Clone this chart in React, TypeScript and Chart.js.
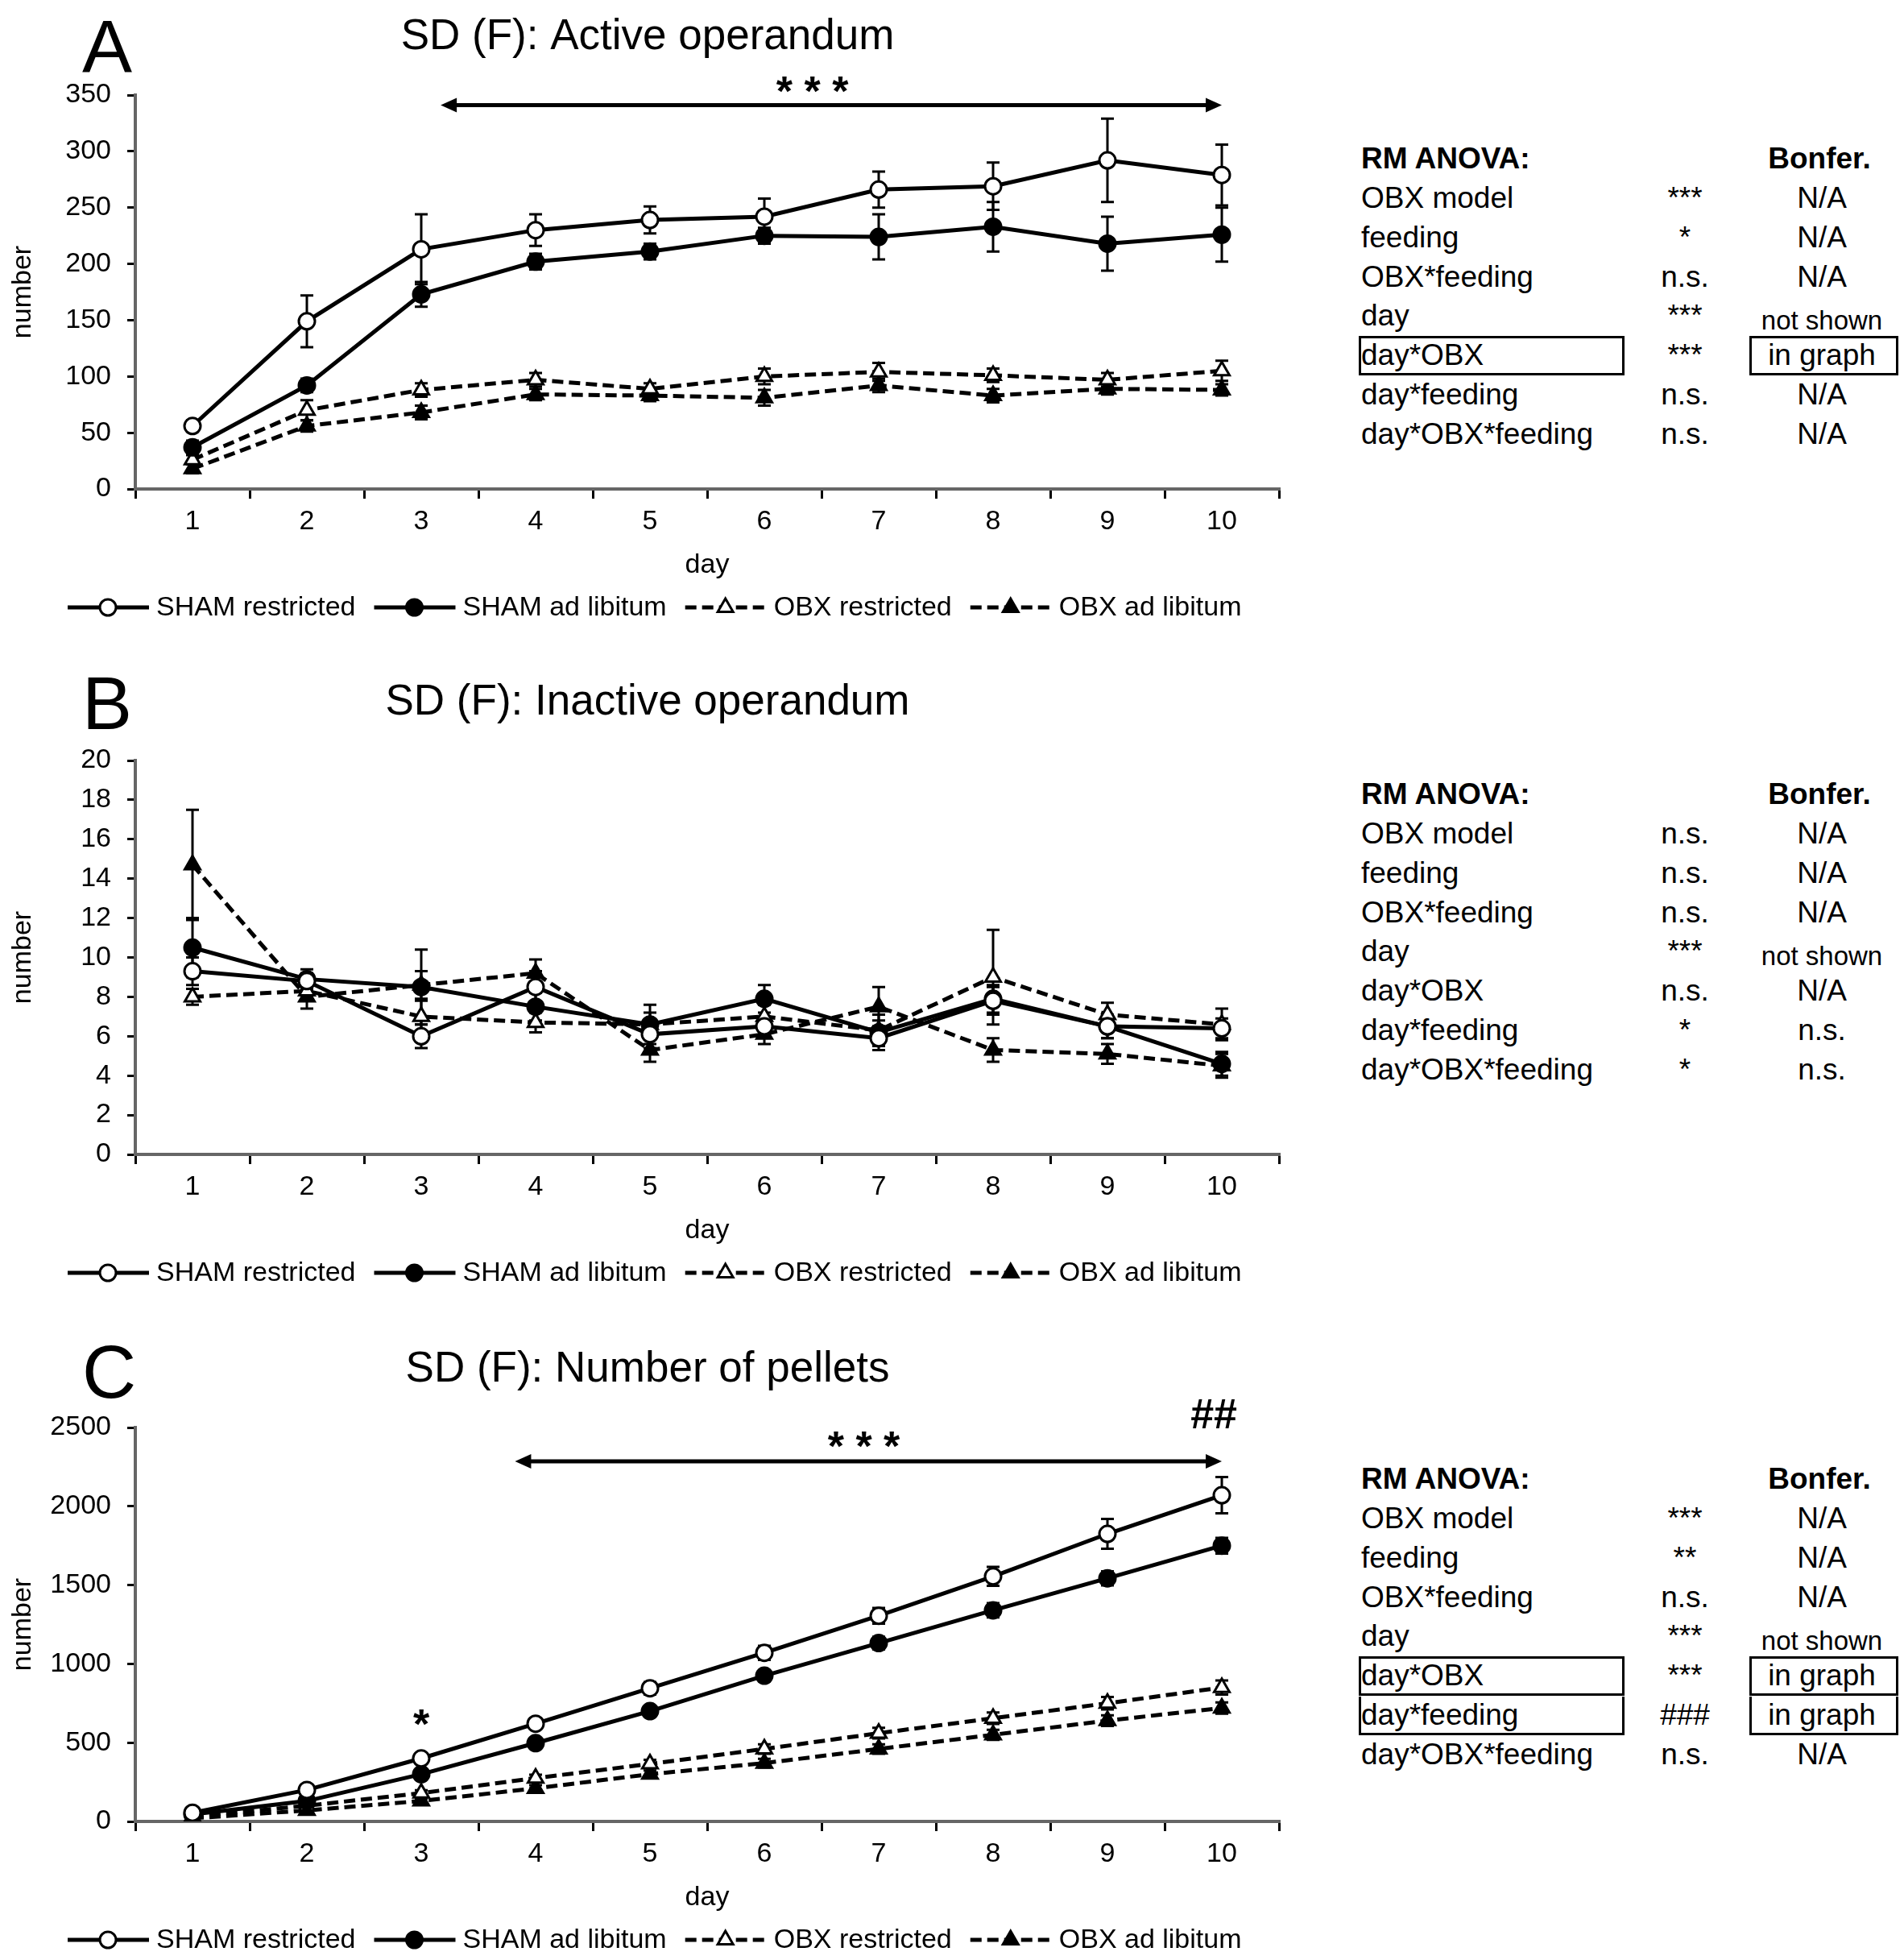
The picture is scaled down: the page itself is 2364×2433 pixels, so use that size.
import React, { useEffect, useRef } from 'react';
import { Chart, registerables } from 'chart.js';

Chart.register(...registerables);

const FONT = '"Liberation Sans", Arial, Helvetica, sans-serif';
Chart.defaults.font.family = FONT;
Chart.defaults.color = '#000';

// ---------- data ----------
const days = ['1', '2', '3', '4', '5', '6', '7', '8', '9', '10'];
const seriesLabels = ['SHAM restricted', 'SHAM ad libitum', 'OBX restricted', 'OBX ad libitum'];

// A: Active operandum
const activeShamRestricted = [56, 149, 213, 230, 239, 242, 266, 269, 292, 279];
const activeShamRestrictedSem = [5, 23, 31, 14, 12, 16, 16, 21, 37, 27];
const activeShamAdLib = [37, 92, 173, 202, 211, 225, 224, 233, 218, 226];
const activeShamAdLibSem = [6, 6, 11, 7, 7, 7, 20, 22, 24, 24];
const activeObxRestricted = [26, 70, 88, 97, 89, 100, 104, 101, 97, 105];
const activeObxRestrictedSem = [4, 9, 6, 6, 5, 7, 8, 6, 6, 9];
const activeObxAdLib = [18, 56, 68, 84, 83, 81, 92, 83, 89, 88];
const activeObxAdLibSem = [4, 5, 6, 5, 5, 7, 6, 6, 5, 5];

// B: Inactive operandum
const inactiveShamRestricted = [9.3, 8.8, 6.0, 8.5, 6.1, 6.5, 5.9, 7.8, 6.5, 6.4];
const inactiveShamRestrictedSem = [0.7, 0.4, 0.6, 0.8, 0.7, 0.5, 0.6, 0.7, 0.6, 0.5];
const inactiveShamAdLib = [10.5, 8.9, 8.5, 7.5, 6.6, 7.9, 6.2, 7.9, 6.5, 4.6];
const inactiveShamAdLibSem = [1.5, 0.5, 1.9, 0.7, 0.6, 0.7, 0.6, 0.7, 0.6, 0.6];
const inactiveObxRestricted = [8.0, 8.3, 7.0, 6.7, 6.6, 7.0, 6.3, 9.0, 7.1, 6.6];
const inactiveObxRestrictedSem = [0.4, 0.4, 0.8, 0.5, 1.0, 0.6, 0.8, 2.4, 0.6, 0.8];
const inactiveObxAdLib = [14.7, 8.0, 8.6, 9.2, 5.3, 6.1, 7.5, 5.3, 5.1, 4.5];
const inactiveObxAdLibSem = [2.8, 0.6, 0.7, 0.7, 0.6, 0.5, 1.0, 0.6, 0.5, 0.6];

// C: Number of pellets
const pelletsShamRestricted = [55, 200, 400, 620, 845, 1070, 1305, 1555, 1825, 2070];
const pelletsShamRestrictedSem = [10, 15, 25, 35, 40, 45, 50, 60, 95, 115];
const pelletsShamAdLib = [45, 130, 300, 497, 700, 925, 1132, 1340, 1543, 1750];
const pelletsShamAdLibSem = [8, 12, 20, 25, 30, 35, 40, 45, 45, 50];
const pelletsObxRestricted = [30, 100, 180, 275, 365, 460, 560, 655, 750, 850];
const pelletsObxRestrictedSem = [8, 12, 18, 22, 26, 30, 34, 36, 40, 45];
const pelletsObxAdLib = [20, 70, 130, 210, 300, 370, 460, 550, 640, 720];
const pelletsObxAdLibSem = [6, 10, 15, 20, 24, 28, 30, 32, 34, 36];

// ANOVA tables
const anovaTerms = ['OBX model', 'feeding', 'OBX*feeding', 'day', 'day*OBX', 'day*feeding', 'day*OBX*feeding'];
const anovaA = ['***', '*', 'n.s.', '***', '***', 'n.s.', 'n.s.'];
const bonfA = ['N/A', 'N/A', 'N/A', 'not shown', 'in graph', 'N/A', 'N/A'];
const boxedA = [4];
const anovaB = ['n.s.', 'n.s.', 'n.s.', '***', 'n.s.', '*', '*'];
const bonfB = ['N/A', 'N/A', 'N/A', 'not shown', 'N/A', 'n.s.', 'n.s.'];
const boxedB: number[] = [];
const anovaC = ['***', '**', 'n.s.', '***', '***', '###', 'n.s.'];
const bonfC = ['N/A', 'N/A', 'N/A', 'not shown', 'in graph', 'in graph', 'N/A'];
const boxedC = [4, 5];

// annotations (in data coordinates: x = day index, y = axis value)
const activeArrow = { from: 2.17, to: 9, y: 341 };
const activeNotes = [{ text: '* * *', x: 5.42, y: 362, kind: 'star' }];
const pelletsArrow = { from: 2.82, to: 9, y: 2285 };
const pelletsNotes = [
  { text: '* * *', x: 5.87, y: 2444, kind: 'star' },
  { text: '##', x: 8.93, y: 2587, kind: 'hash' },
  { text: '*', x: 2.0, y: 680, kind: 'star' },
];

// ---------- styles ----------
const seriesStyles = [
  { dash: [] as number[], open: true, shape: 'circle' },
  { dash: [] as number[], open: false, shape: 'circle' },
  { dash: [14, 7], open: true, shape: 'triangle' },
  { dash: [14, 7], open: false, shape: 'triangle' },
];

const CW = 1640;
const CH = 775;

function drawMarker(ctx: CanvasRenderingContext2D, idx: number, x: number, y: number) {
  const st = seriesStyles[idx];
  ctx.save();
  ctx.setLineDash([]);
  ctx.lineWidth = 3;
  ctx.strokeStyle = '#000';
  ctx.fillStyle = st.open ? '#fff' : '#000';
  ctx.beginPath();
  if (st.shape === 'circle') {
    ctx.arc(x, y, 10, 0, Math.PI * 2);
  } else {
    const r = 11;
    for (let k = 0; k < 3; k++) {
      const a = -Math.PI / 2 + (k * 2 * Math.PI) / 3;
      const px = x + Math.cos(a) * r;
      const py = y + Math.sin(a) * r;
      if (k === 0) ctx.moveTo(px, py);
      else ctx.lineTo(px, py);
    }
    ctx.closePath();
  }
  ctx.fill();
  ctx.stroke();
  ctx.restore();
}

type Series = { values: number[]; sem: number[] };
type Note = { text: string; x: number; y: number; kind: string };
type PanelProps = {
  top: number;
  letter: string;
  letterY: number;
  title: string;
  yMax: number;
  yStep: number;
  series: Series[];
  arrow?: { from: number; to: number; y: number };
  notes: Note[];
};

function Panel(p: PanelProps) {
  const ref = useRef<HTMLCanvasElement>(null);
  useEffect(() => {
    const canvas = ref.current;
    if (!canvas) return;
    const overlay = {
      id: 'overlay',
      beforeDatasetsDraw(chart: any) {
        const ctx: CanvasRenderingContext2D = chart.ctx;
        const ys = chart.scales.y;
        ctx.save();
        ctx.strokeStyle = '#000';
        ctx.lineWidth = 3;
        ctx.setLineDash([]);
        p.series.forEach((s, di) => {
          const meta = chart.getDatasetMeta(di);
          meta.data.forEach((el: any, i: number) => {
            const v = s.values[i];
            const e = s.sem[i];
            const x = el.x;
            const y1 = ys.getPixelForValue(v + e);
            const y2 = ys.getPixelForValue(v - e);
            ctx.beginPath();
            ctx.moveTo(x, y1);
            ctx.lineTo(x, y2);
            ctx.moveTo(x - 8, y1);
            ctx.lineTo(x + 8, y1);
            ctx.moveTo(x - 8, y2);
            ctx.lineTo(x + 8, y2);
            ctx.stroke();
          });
        });
        ctx.restore();
      },
      afterDraw(chart: any) {
        const ctx: CanvasRenderingContext2D = chart.ctx;
        const xs = chart.scales.x;
        const ys = chart.scales.y;
        ctx.save();
        ctx.fillStyle = '#000';
        ctx.strokeStyle = '#000';
        // panel letter
        ctx.font = `93px ${FONT}`;
        ctx.textAlign = 'left';
        ctx.textBaseline = 'alphabetic';
        ctx.fillText(p.letter, 102, p.letterY + 33);
        // title
        ctx.font = `53px ${FONT}`;
        ctx.textAlign = 'center';
        ctx.fillText(p.title, 804, 42 + 19);
        // arrow
        if (p.arrow) {
          const x1 = xs.getPixelForValue(p.arrow.from);
          const x2 = xs.getPixelForValue(p.arrow.to);
          const y = ys.getPixelForValue(p.arrow.y);
          ctx.lineWidth = 5;
          ctx.setLineDash([]);
          ctx.beginPath();
          ctx.moveTo(x1 + 10, y);
          ctx.lineTo(x2 - 10, y);
          ctx.stroke();
          const head = (tip: number, dir: number) => {
            ctx.beginPath();
            ctx.moveTo(tip, y);
            ctx.lineTo(tip + dir * 20, y - 9);
            ctx.lineTo(tip + dir * 20, y + 9);
            ctx.closePath();
            ctx.fill();
          };
          head(x1, 1);
          head(x2, -1);
        }
        // notes
        p.notes.forEach((n) => {
          const x = xs.getPixelForValue(n.x);
          const y = ys.getPixelForValue(n.y);
          const size = 52;
          ctx.font = `bold ${size}px ${FONT}`;
          ctx.textAlign = 'center';
          ctx.textBaseline = 'alphabetic';
          const off = n.kind === 'star' ? 0.58 * size : 0.35 * size;
          ctx.fillText(n.text, x, y + off);
        });
        // legend
        ctx.font = `34px ${FONT}`;
        ctx.textAlign = 'left';
        ctx.textBaseline = 'middle';
        let lx = 84;
        const ly = 754;
        seriesLabels.forEach((lab, i) => {
          ctx.lineWidth = 5;
          ctx.setLineDash(seriesStyles[i].dash);
          ctx.beginPath();
          ctx.moveTo(lx, ly);
          ctx.lineTo(lx + 101, ly);
          ctx.stroke();
          ctx.setLineDash([]);
          drawMarker(ctx, i, lx + 50, ly);
          ctx.fillStyle = '#000';
          ctx.fillText(lab, lx + 110, ly + 1);
          lx = lx + 110 + ctx.measureText(lab).width + 23;
        });
        ctx.restore();
      },
    };

    const datasets = p.series.map((s, i) => {
      const st = seriesStyles[i];
      return {
        label: seriesLabels[i],
        data: s.values,
        borderColor: '#000',
        backgroundColor: '#000',
        borderWidth: 5,
        borderDash: st.dash,
        tension: 0,
        fill: false,
        pointStyle: st.shape,
        pointRadius: st.shape === 'circle' ? 10 : 11,
        pointBorderWidth: 3,
        pointBorderColor: '#000',
        pointBackgroundColor: st.open ? '#fff' : '#000',
      };
    });

    const tickFont = { family: FONT, size: 34 };
    const chart = new Chart(canvas, {
      type: 'line',
      data: { labels: days, datasets: datasets as any },
      options: {
        animation: false,
        responsive: false,
        devicePixelRatio: 1,
        layout: { padding: { top: 118, right: CW - 1588, bottom: CH - 607 - 120, left: 0 } },
        plugins: {
          legend: { display: false },
          tooltip: { enabled: false },
          title: { display: false },
        },
        scales: {
          x: {
            type: 'category',
            offset: true,
            grid: {
              offset: true,
              drawOnChartArea: false,
              drawTicks: true,
              tickLength: 12,
              color: '#000',
              lineWidth: 3,
            },
            border: { display: true, color: '#666', width: 4 },
            ticks: { font: tickFont, color: '#000', padding: 8, maxRotation: 0, autoSkip: false },
            title: {
              display: true,
              text: 'day',
              font: tickFont,
              color: '#000',
              padding: { top: 0, bottom: 5 },
            },
            afterFit: (s: any) => {
              s.height = 120;
            },
          },
          y: {
            min: 0,
            max: p.yMax,
            ticks: {
              stepSize: p.yStep,
              font: tickFont,
              color: '#000',
              padding: 20,
              callback: (v: any) => String(v),
            },
            grid: { drawOnChartArea: false, tickLength: 10, color: '#000', lineWidth: 3 },
            border: { display: true, color: '#666', width: 4 },
            title: {
              display: true,
              text: 'number',
              font: tickFont,
              color: '#000',
              padding: { top: 8, bottom: 0 },
            },
            afterFit: (s: any) => {
              s.width = 168;
            },
          },
        },
      } as any,
      plugins: [overlay as any],
    });
    return () => chart.destroy();
  }, []);
  return (
    <canvas
      ref={ref}
      width={CW}
      height={CH}
      style={{ position: 'absolute', left: 0, top: p.top, width: CW, height: CH }}
    />
  );
}

type TableProps = { headerY: number; stats: string[]; bonf: string[]; boxed: number[] };

function AnovaTable({ headerY, stats, bonf, boxed }: TableProps) {
  const base: React.CSSProperties = {
    position: 'absolute',
    fontFamily: FONT,
    color: '#000',
    whiteSpace: 'nowrap',
    height: 48,
    lineHeight: '48px',
    fontSize: 37,
  };
  const rowY = (i: number) => headerY + 49 + 48.8 * i;
  const boxStyle = (left: number, width: number, top: number, joined: boolean): React.CSSProperties => ({
    position: 'absolute',
    left,
    top: joined ? top + 1 : top,
    width,
    height: joined ? 48 : 49,
    border: '3px solid #000',
    borderTop: joined ? 'none' : '3px solid #000',
    boxSizing: 'border-box',
  });
  return (
    <>
      <div style={{ ...base, left: 1690, top: headerY - 24, fontWeight: 'bold' }}>RM ANOVA:</div>
      <div style={{ ...base, left: 2159, width: 200, textAlign: 'center', top: headerY - 24, fontWeight: 'bold' }}>
        Bonfer.
      </div>
      {anovaTerms.map((t, i) => {
        const cy = rowY(i);
        const small = bonf[i] === 'not shown';
        const joined = boxed.includes(i - 1);
        return (
          <React.Fragment key={t}>
            <div style={{ ...base, left: 1690, top: cy - 24 }}>{t}</div>
            <div style={{ ...base, left: 2012, width: 160, textAlign: 'center', top: cy - 24 }}>{stats[i]}</div>
            <div
              style={{
                ...base,
                left: 2162,
                width: 200,
                textAlign: 'center',
                top: cy - 24 + (small ? 6 : 0),
                fontSize: small ? 33 : 37,
              }}
            >
              {bonf[i]}
            </div>
            {boxed.includes(i) && (
              <>
                <div style={boxStyle(1687, 330, cy - 24, joined)} />
                <div style={boxStyle(2172, 185, cy - 24, joined)} />
              </>
            )}
          </React.Fragment>
        );
      })}
    </>
  );
}

export default function App() {
  const panelA: Series[] = [
    { values: activeShamRestricted, sem: activeShamRestrictedSem },
    { values: activeShamAdLib, sem: activeShamAdLibSem },
    { values: activeObxRestricted, sem: activeObxRestrictedSem },
    { values: activeObxAdLib, sem: activeObxAdLibSem },
  ];
  const panelB: Series[] = [
    { values: inactiveShamRestricted, sem: inactiveShamRestrictedSem },
    { values: inactiveShamAdLib, sem: inactiveShamAdLibSem },
    { values: inactiveObxRestricted, sem: inactiveObxRestrictedSem },
    { values: inactiveObxAdLib, sem: inactiveObxAdLibSem },
  ];
  const panelC: Series[] = [
    { values: pelletsShamRestricted, sem: pelletsShamRestrictedSem },
    { values: pelletsShamAdLib, sem: pelletsShamAdLibSem },
    { values: pelletsObxRestricted, sem: pelletsObxRestrictedSem },
    { values: pelletsObxAdLib, sem: pelletsObxAdLibSem },
  ];
  return (
    <div
      style={{
        position: 'absolute',
        left: 0,
        top: 0,
        width: 2364,
        height: 2433,
        background: '#fff',
        overflow: 'hidden',
      }}
    >
      <Panel
        top={0}
        letter="A"
        letterY={57}
        title="SD (F): Active operandum"
        yMax={350}
        yStep={50}
        series={panelA}
        arrow={activeArrow}
        notes={activeNotes}
      />
      <Panel
        top={826}
        letter="B"
        letterY={46}
        title="SD (F): Inactive operandum"
        yMax={20}
        yStep={2}
        series={panelB}
        notes={[]}
      />
      <Panel
        top={1654}
        letter="C"
        letterY={48}
        title="SD (F): Number of pellets"
        yMax={2500}
        yStep={500}
        series={panelC}
        arrow={pelletsArrow}
        notes={pelletsNotes}
      />
      <AnovaTable headerY={197} stats={anovaA} bonf={bonfA} boxed={boxedA} />
      <AnovaTable headerY={986} stats={anovaB} bonf={bonfB} boxed={boxedB} />
      <AnovaTable headerY={1836} stats={anovaC} bonf={bonfC} boxed={boxedC} />
    </div>
  );
}
